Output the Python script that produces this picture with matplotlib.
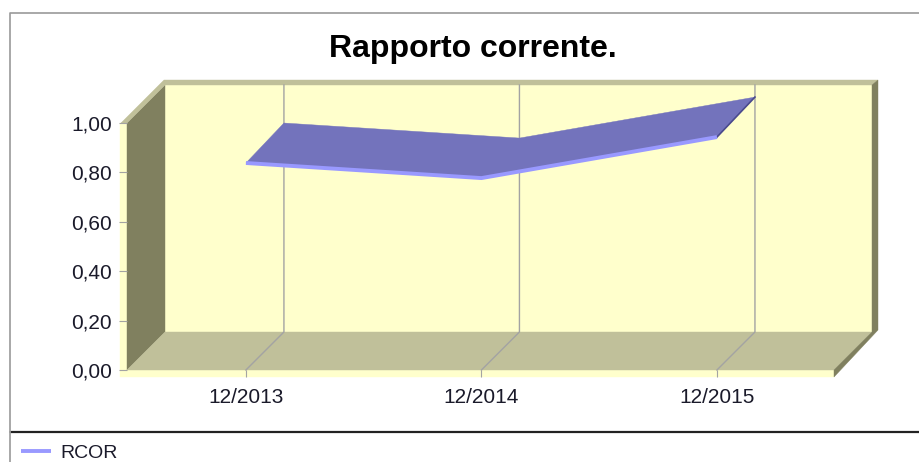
import matplotlib
matplotlib.use("Agg")
import matplotlib.pyplot as plt
from matplotlib.lines import Line2D
from matplotlib.patches import Polygon

plt.rcParams["font.family"] = ["Liberation Sans", "DejaVu Sans"]

# values
periods = ["12/2013", "12/2014", "12/2015"]
rcor = [0.838, 0.777, 0.943]
y_ticks = [0.0, 0.2, 0.4, 0.6, 0.8, 1.0]
y_labels = ["0,00", "0,20", "0,40", "0,60", "0,80", "1,00"]
title = "Rapporto corrente."

W, H = 920, 462

# pixel box of the front plane
left, right, top, bottom = 127, 834, 123, 370
depth_px = 38

fig = plt.figure(figsize=(W / 100, H / 100), dpi=100, facecolor="white")
ax = fig.add_axes([left / W, 1 - bottom / H, (right - left) / W, (bottom - top) / H])
ax.set_facecolor("none")
ax.set_xlim(-0.505, 2.497)
ax.set_ylim(0, 1)
for s in ax.spines.values():
    s.set_visible(False)

x0, x1 = ax.get_xlim()
# depth offset in data units
dx = depth_px / (right - left) * (x1 - x0)
dy = depth_px / (bottom - top)
px_x = (x1 - x0) / (right - left)
px_y = 1 / (bottom - top)


def poly(points, color, z=1):
    ax.add_patch(Polygon(points, closed=True, fc=color, ec=color, lw=0.3, zorder=z, clip_on=False))


wall = "#FFFFCC"
side = "#80805F"
band = "#C0C09A"

# front lip
poly([(x0 - 7 * px_x, 1), (x0, 1), (x0, 0), (x1, 0), (x1, -7 * px_y), (x0 - 7 * px_x, -7 * px_y)], wall)
# back wall
poly([(x0 + dx, dy), (x1 + dx, dy), (x1 + dx, 1 + dy), (x0 + dx, 1 + dy)], wall)
# left wall
poly([(x0, 0), (x0 + dx, dy), (x0 + dx, 1 + dy), (x0, 1)], side)
# floor
poly([(x0, 0), (x1, 0), (x1 + dx, dy), (x0 + dx, dy)], band)
# top band
poly([(x0 - 6 * px_x, 1), (x0 + dx - 1 * px_x, 1 + dy + 5 * px_y), (x1 + dx + 6 * px_x, 1 + dy + 5 * px_y),
      (x1 + dx, 1 + dy), (x0 + dx, 1 + dy), (x0, 1)], band)
# right side
poly([(x1 + dx, 1 + dy), (x1 + dx + 6 * px_x, 1 + dy + 5 * px_y), (x1 + dx + 6 * px_x, dy + 2 * px_y),
      (x1, -7 * px_y), (x1, 0), (x1 + dx, dy)], side)

# gridlines going back across the floor and up the wall
for i in range(len(periods)):
    ax.plot([i, i + dx, i + dx], [0, dy, 1 + dy], color="#A3A3A3", lw=1, zorder=2, clip_on=False)

# ribbon, back edge sits slightly higher than the depth alone
n = len(rcor)
front = [(i, rcor[i]) for i in range(n)]
back = [(i + dx, rcor[i] + dy + 2 * px_y) for i in range(n)]
poly(front + back[::-1], "#7373BC", 3)
ax.plot([n - 1, n - 1 + dx], [rcor[-1], rcor[-1] + dy + 2 * px_y], color="#4A4A8C", lw=1.2, zorder=4, clip_on=False)
ax.plot(range(n), rcor, color="#9999FF", lw=2.8, zorder=4, clip_on=False,
        solid_capstyle="butt", label="RCOR")

ax.set_xticks(range(n), periods)
ax.set_yticks(y_ticks, y_labels)
ax.set_axisbelow(False)
ax.tick_params(axis="x", length=5, width=0.8, color="#A3A3A3", labelsize=15, labelcolor="#1A1A2A", pad=8)
ax.tick_params(axis="y", length=6, width=0.8, color="#A3A3A3", labelsize=15, labelcolor="#1A1A2A", pad=5)

fig.text(473 / W, 1 - 49 / H, title, ha="center", va="center", fontsize=23, fontweight="bold", color="black")

# outer frame and legend divider
fig.add_artist(Line2D([10 / W, 10 / W, 1], [1 - 432 / H, 1 - 13 / H, 1 - 13 / H], color="#9A9A9A", lw=1.2))
fig.add_artist(Line2D([10 / W, 10 / W], [0, 1 - 432 / H], color="#9A9A9A", lw=1.2))
fig.add_artist(Line2D([12 / W, 1], [1 - 432 / H, 1 - 432 / H], color="#222222", lw=1.6))

handles, labels = ax.get_legend_handles_labels()
ax.legend(handles, labels, loc="center left", bbox_to_anchor=(21 / W, 1 - 453 / H),
          bbox_transform=fig.transFigure, frameon=False, fontsize=14,
          handlelength=1.55, handletextpad=0.5, borderpad=0, borderaxespad=0,
          labelcolor="#1A1A2A")

fig.savefig("out.png", dpi=100)
